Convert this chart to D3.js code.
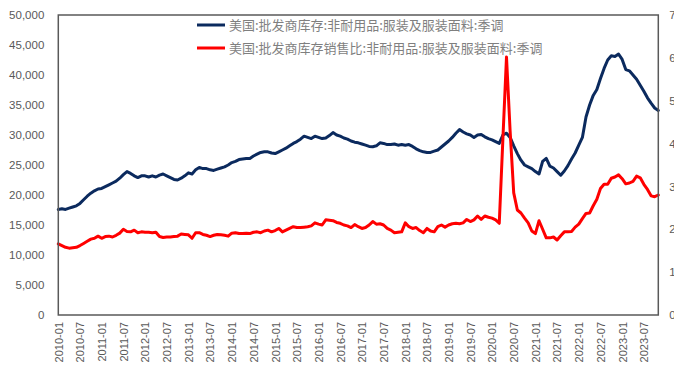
<!DOCTYPE html>
<html><head><meta charset="utf-8">
<script src="https://cdn.jsdelivr.net/npm/d3@7/dist/d3.min.js"></script>
<style>
html,body{margin:0;padding:0;background:#fff;overflow:hidden;}
svg{display:block;}
</style></head>
<body><svg id="c" width="674" height="367"></svg>
<script>
// ---- data ----
const startMonth = "2010-01";
const endMonth = "2023-11";
const seriesNames = ["美国:批发商库存:非耐用品:服装及服装面料:季调", "美国:批发商库存销售比:非耐用品:服装及服装面料:季调"];
const leftTicks = [0,5000,10000,15000,20000,25000,30000,35000,40000,45000,50000];
const rightTicks = [0,1,2,3,4,5,6,7];
const inventory = [
17600,17700,17600,17800,18000,18200,18600,19200,19800,20300,20700,21000,
21100,21400,21700,22000,22300,22800,23400,23900,23600,23200,22900,23200,
23200,23000,23200,23000,23300,23500,23200,22900,22600,22500,22800,23200,
23700,23500,24200,24600,24400,24400,24200,24100,24300,24500,24700,25000,
25400,25600,25900,26000,26100,26100,26500,26800,27100,27200,27200,27000,
26900,27200,27500,27800,28200,28600,28900,29300,29800,29600,29400,29800,
29600,29400,29500,29900,30400,30000,29800,29500,29300,29000,28800,28700,
28500,28300,28100,28050,28200,28700,28600,28400,28400,28500,28300,28400,
28300,28400,28100,27700,27400,27200,27100,27100,27300,27500,28000,28500,
29000,29600,30300,30900,30500,30200,30000,29600,30000,30100,29700,29400,
29200,28900,28600,30000,30300,29600,28200,26900,25800,25000,24700,24400,
23900,23500,25600,26100,24800,24500,23900,23300,24000,24900,26000,27000,
28300,29600,33000,35000,36600,37600,39400,41100,42500,43200,43100,43500,
42600,40900,40700,40000,39300,38300,37300,36200,35300,34500,34100
];
const ratio = [
1.66,1.62,1.58,1.56,1.57,1.58,1.62,1.67,1.72,1.77,1.79,1.84,
1.79,1.83,1.84,1.82,1.86,1.91,2.00,1.95,1.94,1.98,1.92,1.94,
1.93,1.93,1.92,1.93,1.83,1.81,1.82,1.82,1.83,1.84,1.89,1.88,
1.87,1.79,1.92,1.92,1.88,1.86,1.83,1.86,1.88,1.87,1.86,1.84,
1.91,1.92,1.90,1.90,1.91,1.90,1.93,1.94,1.92,1.96,1.98,1.94,
1.97,2.02,1.94,1.98,2.02,2.06,2.04,2.04,2.05,2.06,2.08,2.15,
2.12,2.10,2.22,2.21,2.20,2.16,2.14,2.10,2.08,2.04,2.11,2.06,
2.02,2.04,2.10,2.18,2.12,2.13,2.10,2.02,1.98,1.92,1.93,1.94,
2.15,2.06,2.02,2.04,1.97,1.92,2.02,1.96,1.94,2.06,2.10,2.05,
2.10,2.13,2.14,2.13,2.15,2.23,2.18,2.22,2.31,2.23,2.31,2.28,
2.26,2.22,2.14,4.10,6.02,4.30,2.85,2.45,2.38,2.26,2.15,1.96,
1.90,2.20,2.00,1.80,1.80,1.82,1.75,1.85,1.94,1.94,1.95,2.05,
2.12,2.25,2.37,2.38,2.55,2.70,2.95,3.05,3.05,3.19,3.22,3.27,
3.18,3.06,3.08,3.12,3.24,3.20,3.05,2.93,2.78,2.76,2.80
];
const colors = ["#0b2a5e", "#ff0000"];

// ---- categories ----
const months = [];
{
  let [y, m] = startMonth.split("-").map(Number);
  const [ey, em] = endMonth.split("-").map(Number);
  while (y < ey || (y === ey && m <= em)) {
    months.push(y + "-" + String(m).padStart(2, "0"));
    m++; if (m > 12) { m = 1; y++; }
  }
}
const tickLabels = months.filter(d => d.endsWith("-01") || d.endsWith("-07"));

// ---- layout ----
const L = 58.3, R = 658.3, T = 15, B = 315;
const svg = d3.select("#c");
const x = d3.scalePoint().domain(months).range([L, R]);
const yL = d3.scaleLinear().domain([0, 50000]).range([B, T]);
const yR = d3.scaleLinear().domain([0, 7]).range([B, T]);

const tickFont = "'Liberation Sans', Arial, sans-serif";
const grey = "#595959";

// left axis
const axL = svg.append("g").attr("transform", `translate(${L},0)`)
  .call(d3.axisLeft(yL).tickValues(leftTicks).tickFormat(d3.format(",")).tickSize(0).tickPadding(14));
axL.select(".domain").remove();
axL.selectAll("text").attr("fill", grey).style("font-family", tickFont).style("font-size", "11.5px");

// right axis
const axR = svg.append("g").attr("transform", `translate(${R},0)`)
  .call(d3.axisRight(yR).tickValues(rightTicks).tickFormat(d3.format(".0f")).tickSize(0).tickPadding(11));
axR.select(".domain").remove();
axR.selectAll("text").attr("fill", grey).style("font-family", tickFont).style("font-size", "11.5px");

// bottom axis labels
const axB = svg.append("g").attr("transform", `translate(0,${B})`)
  .call(d3.axisBottom(x).tickValues(tickLabels).tickSize(0));
axB.select(".domain").remove();
axB.selectAll("text")
  .attr("fill", grey).style("font-family", tickFont).style("font-size", "11px")
  .attr("text-anchor", "end")
  .attr("transform", "rotate(-90)")
  .attr("x", -7).attr("y", 0).attr("dy", "0.35em");

// series lines
const line1 = d3.line().x((d, i) => x(months[i])).y(d => yL(d));
const line2 = d3.line().x((d, i) => x(months[i])).y(d => yR(d));
svg.append("path").datum(inventory).attr("d", line1)
  .attr("fill", "none").attr("stroke", colors[0]).attr("stroke-width", 3)
  .attr("stroke-linejoin", "round").attr("stroke-linecap", "round");
svg.append("path").datum(ratio).attr("d", line2)
  .attr("fill", "none").attr("stroke", colors[1]).attr("stroke-width", 3)
  .attr("stroke-linejoin", "round").attr("stroke-linecap", "round");

// plot frame
svg.append("rect").attr("x", L).attr("y", T).attr("width", R - L).attr("height", B - T)
  .attr("fill", "none").attr("stroke", "#595959").attr("stroke-width", 1.5);

// legend
const lg = svg.append("g");
const legY = [25, 48];
seriesNames.forEach((n, i) => {
  lg.append("line").attr("x1", 197).attr("x2", 225).attr("y1", legY[i]).attr("y2", legY[i])
    .attr("stroke", colors[i]).attr("stroke-width", 3);
  lg.append("text").attr("x", 229).attr("y", legY[i]).attr("dy", "0.36em")
    .attr("fill", "#7f7f7f").style("font-family", "'Noto Sans CJK SC', sans-serif").style("font-size", "13px")
    .text(n);
});
</script></body></html>
